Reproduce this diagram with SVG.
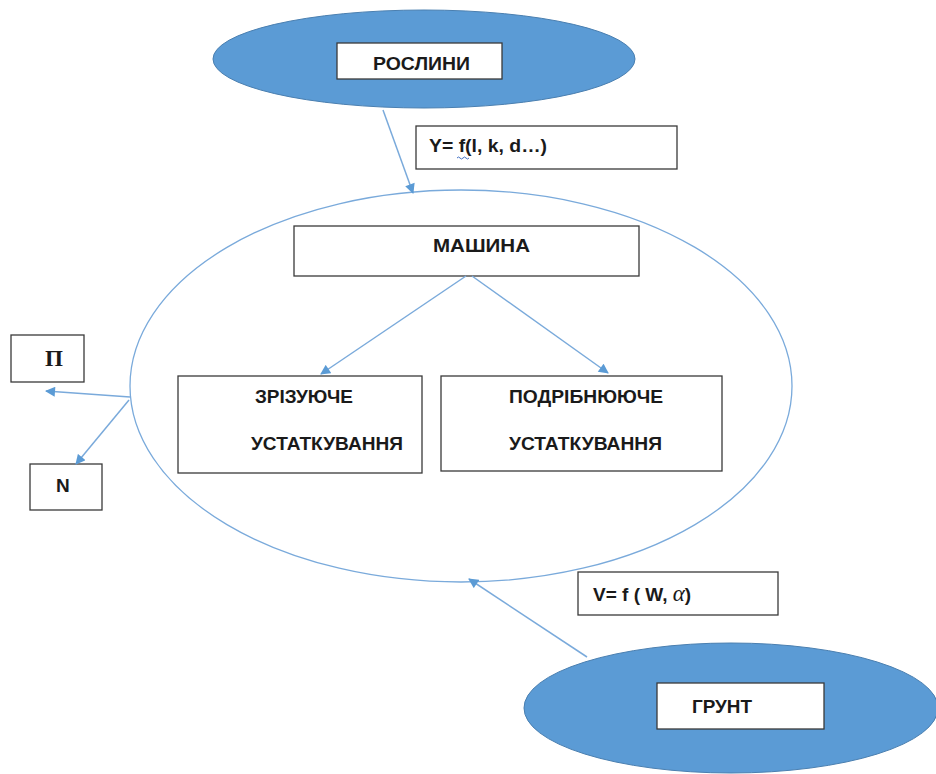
<svg xmlns="http://www.w3.org/2000/svg" width="936" height="774" viewBox="0 0 936 774">
<style>
.bg{fill:#ffffff}
.box{fill:#ffffff;stroke:#3a3a3a;stroke-width:1.3}
.blob{fill:#5b9bd5;stroke:#4a7fb0;stroke-width:1}
.ring{fill:none;stroke:#7aaadb;stroke-width:1.3}
.lbl{font-family:"Liberation Sans",Arial,sans-serif;font-weight:bold;font-size:19px;fill:#1a1a1a}
.conn{fill:none;stroke:#7aaadb;stroke-width:1.5}
</style>
<defs>
<marker id="ah" viewBox="0 0 10 10" refX="9" refY="5" markerWidth="11" markerHeight="10" markerUnits="userSpaceOnUse" orient="auto">
<path d="M0,0 L10,5 L0,10 Z" fill="#5b9bd5"/>
</marker>
</defs>
<rect class="bg" x="0" y="0" width="936" height="774"/>
<g id="machine-system">
<ellipse class="ring" cx="461" cy="386" rx="331" ry="196"/>
</g>
<g id="plants">
<ellipse class="blob" cx="424" cy="59" rx="211" ry="49"/>
<rect class="box" x="337" y="43" width="165" height="36"/>
<text class="lbl" x="373" y="70" textLength="97" lengthAdjust="spacingAndGlyphs">РОСЛИНИ</text>
</g>
<g id="formula-y">
<rect class="box" x="416" y="126" width="261" height="43"/>
<text class="lbl" x="429" y="152" font-size="20" textLength="118" lengthAdjust="spacingAndGlyphs">Y= f(l, k, d…)</text>
<path d="M457,158 q1.5,-2 3,0 t3,0 t3,0 t3,0" fill="none" stroke="#4472c4" stroke-width="1"/>
</g>
<g id="machine">
<rect class="box" x="294" y="226" width="345" height="50"/>
<text class="lbl" x="433" y="252" textLength="97" lengthAdjust="spacingAndGlyphs">МАШИНА</text>
</g>
<g id="cutting">
<rect class="box" x="178" y="376" width="244" height="97"/>
<text class="lbl" x="255" y="403" textLength="98" lengthAdjust="spacingAndGlyphs">ЗРІЗУЮЧЕ</text>
<text class="lbl" x="251" y="450" textLength="152" lengthAdjust="spacingAndGlyphs">УСТАТКУВАННЯ</text>
</g>
<g id="chopping">
<rect class="box" x="441" y="376" width="281" height="95"/>
<text class="lbl" x="509" y="403" textLength="154" lengthAdjust="spacingAndGlyphs">ПОДРІБНЮЮЧЕ</text>
<text class="lbl" x="509" y="450" textLength="153" lengthAdjust="spacingAndGlyphs">УСТАТКУВАННЯ</text>
</g>
<g id="p-box">
<rect class="box" x="11" y="335" width="73" height="47"/>
<text x="45" y="366" font-family="'Liberation Serif','Times New Roman',serif" font-weight="bold" font-size="23" fill="#1a1a1a" textLength="18" lengthAdjust="spacingAndGlyphs">П</text>
</g>
<g id="n-box">
<rect class="box" x="30" y="464" width="72" height="46"/>
<text class="lbl" x="56" y="492">N</text>
</g>
<g id="formula-v">
<rect class="box" x="578" y="572" width="200" height="43"/>
<text class="lbl" x="593" y="601" font-size="21">V= f ( W, <tspan font-family="'Liberation Serif','Times New Roman',serif" font-style="italic" font-weight="normal" font-size="23">α</tspan>)</text>
</g>
<g id="soil">
<ellipse class="blob" cx="731" cy="708" rx="207" ry="65"/>
<rect class="box" x="657" y="683" width="167" height="46"/>
<text class="lbl" x="692" y="713" textLength="60" lengthAdjust="spacingAndGlyphs">ГРУНТ</text>
</g>
<g id="connectors">
<line class="conn" x1="383" y1="110" x2="413" y2="193" marker-end="url(#ah)"/>
<line class="conn" x1="466" y1="276" x2="321" y2="374" marker-end="url(#ah)"/>
<line class="conn" x1="472" y1="276" x2="608" y2="373" marker-end="url(#ah)"/>
<line class="conn" x1="130" y1="397" x2="46" y2="391" marker-end="url(#ah)"/>
<line class="conn" x1="129" y1="400" x2="76" y2="464" marker-end="url(#ah)"/>
<line class="conn" x1="587" y1="657" x2="469" y2="579" marker-end="url(#ah)"/>
</g>
</svg>
